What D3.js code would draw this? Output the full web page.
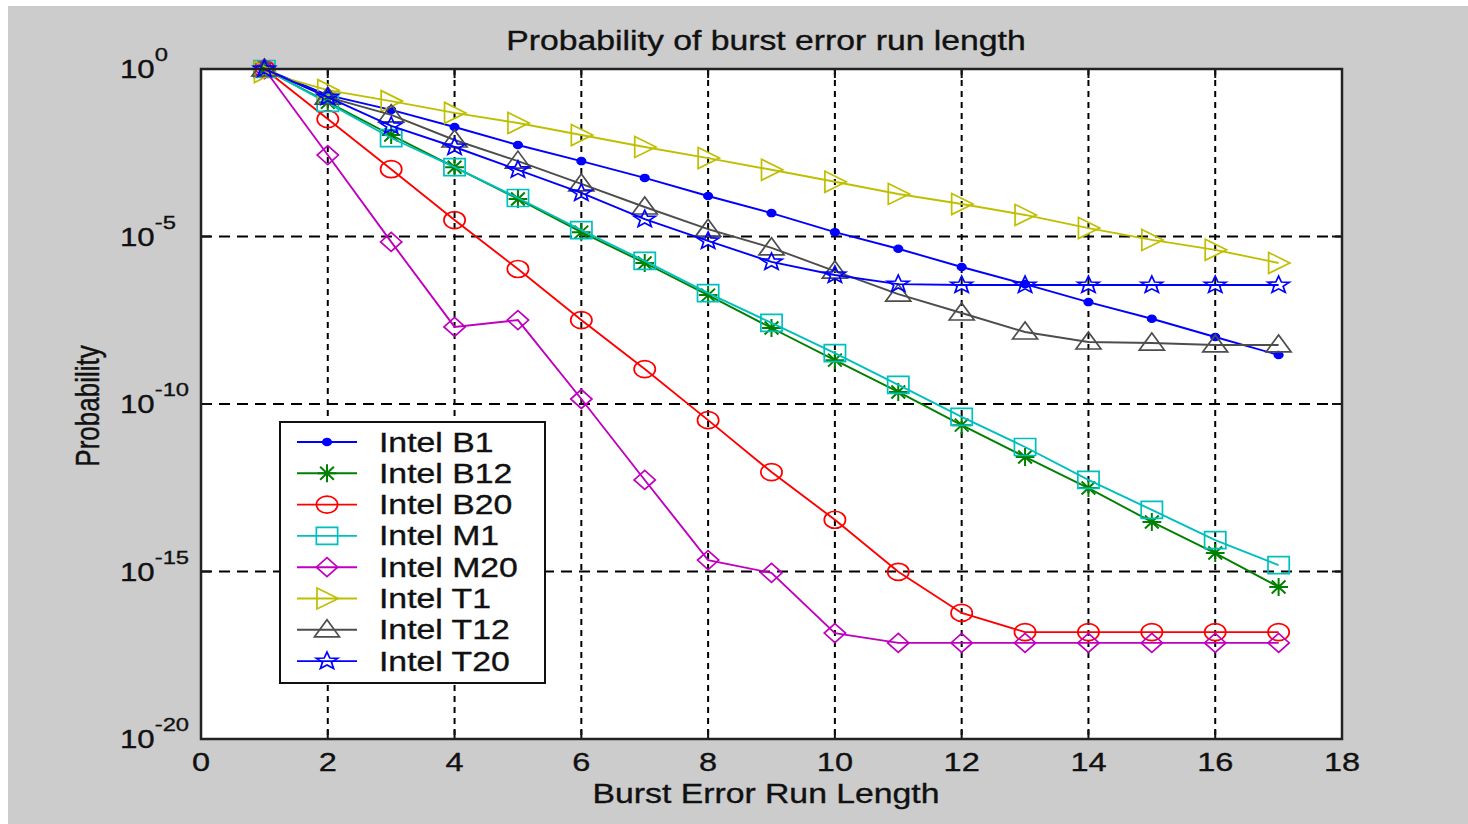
<!DOCTYPE html>
<html>
<head>
<meta charset="utf-8">
<script src="https://cdn.jsdelivr.net/npm/d3@7"></script>
<style>
  html, body { margin: 0; padding: 0; background: #ffffff; }
  svg { display: block; }
  text { font-family: Arial, "Liberation Sans", sans-serif; fill: #111; stroke: #111; stroke-width: 0.35px; }
</style>
</head>
<body>
<svg id="chart" width="1468" height="824"></svg>
<script>
// ---- data ----
const runLength = [1, 2, 3, 4, 5, 6, 7, 8, 9, 10, 11, 12, 13, 14, 15, 16, 17];
const intelB1  = [1, 1.66e-1, 6.0e-2, 1.86e-2, 5.4e-3, 1.78e-3, 5.6e-4, 1.62e-4, 5.0e-5, 1.35e-5, 4.3e-6, 1.23e-6, 3.8e-7, 1.10e-7, 3.5e-8, 1.0e-8, 2.9e-9];
const intelB12 = [1, 1.02e-1, 1.07e-2, 1.17e-3, 1.32e-4, 1.35e-5, 1.62e-6, 1.78e-7, 1.86e-8, 2.04e-9, 2.29e-10, 2.34e-11, 2.63e-12, 3.09e-13, 3.02e-14, 3.55e-15, 3.47e-16];
const intelB20 = [1, 3.2e-2, 1.02e-3, 3.1e-5, 1.07e-6, 3.2e-8, 1.10e-9, 3.3e-11, 9.3e-13, 3.5e-14, 9.8e-16, 5.8e-17, 1.55e-17, 1.55e-17, 1.55e-17, 1.55e-17, 1.55e-17];
const intelM1  = [1, 9.8e-2, 8.7e-3, 1.17e-3, 1.41e-4, 1.55e-5, 1.86e-6, 2.04e-7, 2.63e-8, 3.3e-9, 3.7e-10, 4.1e-11, 5.2e-12, 5.4e-13, 6.9e-14, 8.7e-15, 1.55e-15];
const intelM20 = [1, 2.7e-3, 6.9e-6, 2.0e-8, 3.2e-8, 1.41e-10, 5.4e-13, 2.19e-15, 9.1e-16, 1.45e-17, 7.4e-18, 7.4e-18, 7.4e-18, 7.4e-18, 7.4e-18, 7.4e-18, 7.4e-18];
const intelT1  = [8.1e-1, 2.34e-1, 1.10e-1, 4.9e-2, 2.45e-2, 1.07e-2, 4.7e-3, 2.19e-3, 9.8e-4, 4.3e-4, 1.86e-4, 9.3e-5, 4.4e-5, 1.78e-5, 7.9e-6, 4.0e-6, 1.62e-6];
const intelT12 = [1, 1.45e-1, 4.3e-2, 7.6e-3, 1.78e-3, 3.7e-4, 7.6e-5, 1.66e-5, 4.6e-6, 9.3e-7, 1.91e-7, 5.2e-8, 1.41e-8, 7.1e-9, 6.6e-9, 5.8e-9, 5.8e-9];
const intelT20 = [1, 1.45e-1, 2.0e-2, 4.7e-3, 9.8e-4, 2.0e-4, 3.3e-5, 7.4e-6, 1.74e-6, 7.1e-7, 3.8e-7, 3.55e-7, 3.55e-7, 3.55e-7, 3.55e-7, 3.55e-7, 3.55e-7];

const seriesNames = ["Intel B1", "Intel B12", "Intel B20", "Intel M1", "Intel M20", "Intel T1", "Intel T12", "Intel T20"];
const seriesValues = [intelB1, intelB12, intelB20, intelM1, intelM20, intelT1, intelT12, intelT20];
const seriesColors = ["#0000ff", "#008000", "#ff0000", "#00bfbf", "#bf00bf", "#bfbf00", "#4d4d4d", "#0000ff"];
const seriesMarkers = ["dot", "asterisk", "circle", "square", "diamond", "triRight", "triUp", "star"];

const xTicks = [0, 2, 4, 6, 8, 10, 12, 14, 16, 18];
const yTickExps = [0, -5, -10, -15, -20];
const titleText = "Probability of burst error run length";
const xLabelText = "Burst Error Run Length";
const yLabelText = "Probability";

// ---- layout ----
const W = 1468, H = 824;
const plot = { left: 201, right: 1342, top: 69, bottom: 739 };
const SX = 1.25; // horizontal stretch of the reference

const svg = d3.select("#chart");
svg.append("rect").attr("x", 8).attr("y", 6).attr("width", W - 8).attr("height", H - 6).attr("fill", "#cccccc");

const x = d3.scaleLinear().domain([0, 18]).range([plot.left, plot.right]);
const y = d3.scaleLog().domain([1e-20, 1]).range([plot.bottom, plot.top]);

svg.append("rect")
  .attr("x", plot.left).attr("y", plot.top)
  .attr("width", plot.right - plot.left).attr("height", plot.bottom - plot.top)
  .attr("fill", "#ffffff");

// grid
const grid = svg.append("g");
xTicks.filter(t => t > 0 && t < 18).forEach(t => {
  grid.append("line")
    .attr("x1", x(t)).attr("x2", x(t)).attr("y1", plot.top).attr("y2", plot.bottom)
    .attr("stroke", "#000").attr("stroke-width", 2).attr("stroke-dasharray", "6,5");
});
yTickExps.filter(e => e < 0 && e > -20).forEach(e => {
  grid.append("line")
    .attr("x1", plot.left).attr("x2", plot.right).attr("y1", y(Math.pow(10, e))).attr("y2", y(Math.pow(10, e)))
    .attr("stroke", "#000").attr("stroke-width", 2).attr("stroke-dasharray", "11,7");
});

// inner tick marks
const tickG = svg.append("g").attr("stroke", "#111").attr("stroke-width", 2);
xTicks.forEach(t => {
  tickG.append("line").attr("x1", x(t)).attr("x2", x(t)).attr("y1", plot.bottom).attr("y2", plot.bottom - 9);
  tickG.append("line").attr("x1", x(t)).attr("x2", x(t)).attr("y1", plot.top).attr("y2", plot.top + 9);
});
yTickExps.forEach(e => {
  const yy = y(Math.pow(10, e));
  tickG.append("line").attr("x1", plot.left).attr("x2", plot.left + 10).attr("y1", yy).attr("y2", yy);
  tickG.append("line").attr("x1", plot.right).attr("x2", plot.right - 10).attr("y1", yy).attr("y2", yy);
});

// marker paths (unscaled; stretched horizontally by SX)
function markerPath(type) {
  const p = d3.path();
  switch (type) {
    case "circle": return d3.symbol(d3.symbolCircle, Math.PI * 8.5 * 8.5)();
    case "dot": return d3.symbol(d3.symbolCircle, Math.PI * 3.4 * 3.4)();
    case "square": p.rect(-8.5, -8.5, 17, 17); return p.toString();
    case "diamond": return "M0,-9.5L8.5,0L0,9.5L-8.5,0Z";
    case "triRight": return "M-8,-10.5L9,0L-8,10.5Z";
    case "triUp": return "M-10,7L0,-10L10,7Z";
    case "asterisk": return "M-7.5,0L7.5,0M0,-9L0,9M-5.5,-6.5L5.5,6.5M-5.5,6.5L5.5,-6.5";
    case "star": {
      const pts = [];
      for (let i = 0; i < 10; i++) {
        const r = i % 2 === 0 ? 9 : 3.8;
        const a = -Math.PI / 2 + i * Math.PI / 5;
        pts.push([r * Math.cos(a), r * Math.sin(a)]);
      }
      return "M" + pts.map(q => q.join(",")).join("L") + "Z";
    }
  }
}
function drawMarker(g, type, color, cx, cy) {
  const filled = type === "dot";
  g.append("path")
    .attr("d", markerPath(type))
    .attr("transform", `translate(${cx},${cy}) scale(${SX},1)`)
    .attr("fill", filled ? color : "none")
    .attr("stroke", color)
    .attr("stroke-width", type === "asterisk" ? 2 : 1.7)
    .attr("vector-effect", "non-scaling-stroke");
}

// series
const line = d3.line().x(d => x(d[0])).y(d => y(d[1]));
const seriesG = svg.append("g");
seriesValues.forEach((vals, i) => {
  const pts = runLength.map((r, j) => [r, vals[j]]);
  const g = seriesG.append("g");
  g.append("path").attr("d", line(pts)).attr("fill", "none")
    .attr("stroke", seriesColors[i]).attr("stroke-width", 1.9);
  pts.forEach(d => drawMarker(g, seriesMarkers[i], seriesColors[i], x(d[0]), y(d[1])));
});

// axes box
svg.append("rect")
  .attr("x", plot.left).attr("y", plot.top)
  .attr("width", plot.right - plot.left).attr("height", plot.bottom - plot.top)
  .attr("fill", "none").attr("stroke", "#222").attr("stroke-width", 2.5);

// stretched text helper
function stext(g, str, tx, ty, size, anchor) {
  return g.append("text")
    .attr("transform", `translate(${tx},${ty}) scale(${SX},1)`)
    .attr("font-size", size).attr("text-anchor", anchor || "start")
    .text(str);
}

// x tick labels
const labels = svg.append("g");
xTicks.forEach(t => stext(labels, String(t), x(t), 771, 26, "middle"));

// y tick labels: 10^e (left aligned, as in the reference)
yTickExps.forEach(e => {
  const yy = y(Math.pow(10, e));
  const t = labels.append("text")
    .attr("transform", `translate(120,${yy + 9}) scale(${SX},1)`)
    .attr("text-anchor", "start").attr("font-size", 25);
  t.append("tspan").text("10");
  t.append("tspan").attr("font-size", 19).attr("dy", -17).text(e === 0 ? "0" : "-" + Math.abs(e));
});

// title, axis labels
stext(svg, titleText, 766, 50, 27, "middle");
stext(svg, xLabelText, 766, 803, 27, "middle");
svg.append("text")
  .attr("transform", `translate(99,406) scale(${SX},1) rotate(-90)`)
  .attr("font-size", 26).attr("text-anchor", "middle")
  .text(yLabelText);

// legend
const leg = svg.append("g");
leg.append("rect").attr("x", 280).attr("y", 422).attr("width", 265).attr("height", 261)
  .attr("fill", "#ffffff").attr("stroke", "#111").attr("stroke-width", 2);
seriesNames.forEach((name, i) => {
  const cy = 442 + i * 31.3;
  leg.append("line").attr("x1", 297).attr("x2", 357).attr("y1", cy).attr("y2", cy)
    .attr("stroke", seriesColors[i]).attr("stroke-width", 1.9);
  drawMarker(leg, seriesMarkers[i], seriesColors[i], 327, cy);
  stext(leg, name, 379, cy + 9.5, 27, "start");
});
</script>
</body>
</html>
